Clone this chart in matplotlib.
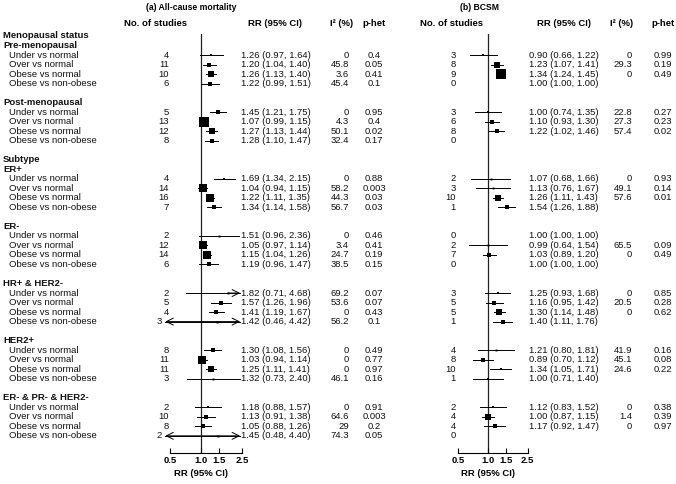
import numpy as np
import matplotlib
matplotlib.use('Agg')
import matplotlib.pyplot as plt
from matplotlib.ticker import NullLocator

plt.rcParams['font.family'] = ['Liberation Sans', 'DejaVu Sans']
FS = 6.8

# ---- data -------------------------------------------------------------------
sections = ['Menopausal status', 'Subtype']
groups = ['Pre-menopausal', 'Post-menopausal', 'ER+', 'ER-', 'HR+ & HER2-', 'HER2+',
          'ER- & PR- & HER2-']
comparisons = ['Under vs normal', 'Over vs normal', 'Obese vs normal', 'Obese vs non-obese']

# (a) all-cause mortality, 4 comparisons per group, groups in order above
acm_n = [4, 11, 10, 6,   5, 13, 12, 8,   4, 14, 16, 7,   2, 12, 14, 6,
         2, 5, 4, 3,     8, 11, 11, 3,   2, 10, 8, 2]
acm_rr = [1.26, 1.20, 1.26, 1.22,  1.45, 1.07, 1.27, 1.28,  1.69, 1.04, 1.22, 1.34,
          1.51, 1.05, 1.15, 1.19,  1.82, 1.57, 1.41, 1.42,  1.30, 1.03, 1.25, 1.32,
          1.18, 1.13, 1.05, 1.45]
acm_lo = [0.97, 1.04, 1.13, 0.99,  1.21, 0.99, 1.13, 1.10,  1.34, 0.94, 1.11, 1.14,
          0.96, 0.97, 1.04, 0.96,  0.71, 1.26, 1.19, 0.46,  1.08, 0.94, 1.11, 0.73,
          0.88, 0.91, 0.88, 0.48]
acm_hi = [1.64, 1.40, 1.40, 1.51,  1.75, 1.15, 1.44, 1.47,  2.15, 1.15, 1.35, 1.58,
          2.36, 1.14, 1.26, 1.47,  4.68, 1.96, 1.67, 4.42,  1.56, 1.14, 1.41, 2.40,
          1.57, 1.38, 1.26, 4.40]
acm_i2 = ['0', '45.8', '3.6', '45.4',  '0', '4.3', '50.1', '32.4',  '0', '58.2', '44.3', '56.7',
          '0', '3.4', '24.7', '38.5',  '69.2', '53.6', '0', '56.2',  '0', '0', '0', '46.1',
          '0', '64.6', '29', '74.3']
acm_phet = ['0.4', '0.05', '0.41', '0.1',  '0.95', '0.4', '0.02', '0.17',
            '0.88', '0.003', '0.03', '0.03',  '0.46', '0.41', '0.19', '0.15',
            '0.07', '0.07', '0.43', '0.1',  '0.49', '0.77', '0.97', '0.16',
            '0.91', '0.003', '0.2', '0.05']

# (b) breast-cancer-specific mortality; None = nothing printed
bcsm_n = [3, 8, 9, 0,   3, 6, 8, 0,   2, 3, 10, 1,   0, 2, 7, 0,
          3, 5, 5, 1,   4, 8, 10, 1,   2, 4, 4, 0]
bcsm_rr = [0.90, 1.23, 1.34, 1.00,  1.00, 1.10, 1.22, None,  1.07, 1.13, 1.26, 1.54,
           1.00, 0.99, 1.03, 1.00,  1.25, 1.16, 1.30, 1.40,  1.21, 0.89, 1.34, 1.00,
           1.12, 1.00, 1.17, None]
bcsm_lo = [0.66, 1.07, 1.24, 1.00,  0.74, 0.93, 1.02, None,  0.68, 0.76, 1.11, 1.26,
           1.00, 0.64, 0.89, 1.00,  0.93, 0.95, 1.14, 1.11,  0.80, 0.70, 1.05, 0.71,
           0.83, 0.87, 0.92, None]
bcsm_hi = [1.22, 1.41, 1.45, 1.00,  1.35, 1.30, 1.46, None,  1.66, 1.67, 1.43, 1.88,
           1.00, 1.54, 1.20, 1.00,  1.68, 1.42, 1.48, 1.76,  1.81, 1.12, 1.71, 1.40,
           1.52, 1.15, 1.47, None]
bcsm_i2 = ['0', '29.3', '0', None,  '22.8', '27.3', '57.4', None,  '0', '49.1', '57.6', None,
           None, '65.5', '0', None,  '0', '20.5', '0', None,  '41.9', '45.1', '24.6', None,
           '0', '1.4', '0', None]
bcsm_phet = ['0.99', '0.19', '0.49', None,  '0.27', '0.23', '0.02', None,
             '0.93', '0.14', '0.01', None,  None, '0.09', '0.49', None,
             '0.85', '0.28', '0.62', None,  '0.16', '0.08', '0.22', None,
             '0.38', '0.39', '0.97', None]

ticks = [0.5, 1.0, 1.5, 2.5]
tick_labels = ['0.5', '1.0', '1.5', '2.5']

# ---- layout (pixels) ----------------------------------------------------------
W, H = 676, 484
ROW0, DY = 36.0, 9.52           # y of row 0 ("Menopausal status"), row pitch
section_rows = [0, 13]
group_rows = [1, 7, 14, 20, 26, 32, 38]
CUT_LO, CUT_HI = 0.50, 2.40     # CIs beyond these are truncated with an arrow
TIP_LO, TIP_HI = 0.45, 2.40     # where the arrow tips are drawn
AX_TOP, AX_BOT = 34, 453


def ypx(row):
    return ROW0 + DY * row


fig = plt.figure(figsize=(W / 100, H / 100), dpi=100)
tax = fig.add_axes([0, 0, 1, 1])
tax.set_xlim(0, W); tax.set_ylim(H, 0); tax.axis('off')


def txt(x, row, s, ha='left', bold=False):
    tax.text(x, ypx(row), s, ha=ha, va='center', fontsize=FS,
             fontweight='bold' if bold else 'normal', color='#111111')


def panel(title, cx, cols, n, rr, lo, hi, i2, ph):
    # cols: n right edge, x of RR=1, px per ln unit, RR text left, I2 right, p centre
    x_n, x_one, scale, x_rr, x_i2, x_p = cols
    tax.text(cx, 7, title, ha='center', va='center', fontsize=6.2, fontweight='bold')
    left = x_one - np.log(2.5) * scale
    right = x_one + np.log(2.5) * scale
    ax = fig.add_axes([left / W, 1 - AX_BOT / H, (right - left) / W, (AX_BOT - AX_TOP) / H])
    ax.set_xscale('log')
    ax.set_xlim(0.4, 2.5)
    ax.set_ylim((AX_BOT - ROW0) / DY, (AX_TOP - ROW0) / DY)
    ax.patch.set_alpha(0)
    for sp in ['top', 'left', 'right']:
        ax.spines[sp].set_visible(False)
    ax.spines['bottom'].set_bounds(0.5, 2.5)
    ax.spines['bottom'].set_linewidth(0.8)
    ax.set_yticks([])
    ax.set_xticks(ticks)
    ax.set_xticklabels(tick_labels, fontweight='bold', fontsize=FS)
    ax.xaxis.set_minor_locator(NullLocator())
    ax.tick_params(axis='x', direction='in', length=3.6, width=0.8, pad=2.5)
    ax.set_xlabel('RR (95% CI)', fontweight='bold', fontsize=FS, labelpad=2.5)
    ax.axvline(1.0, color='#222222', lw=0.9, zorder=1)

    arrow = dict(arrowstyle='->,head_length=0.5,head_width=0.25', color='black', lw=0.7,
                 shrinkA=0, shrinkB=0, clip_on=False)
    for g, grow in enumerate(group_rows):
        for c in range(4):
            k = g * 4 + c
            row = grow + 1 + c
            cut_lo = lo[k] is not None and lo[k] < CUT_LO
            cut_hi = hi[k] is not None and hi[k] > CUT_HI
            # the count is nudged left when a left-pointing arrow needs the room
            txt(x_n - (7 if cut_lo else 0), row, str(n[k]), ha='right')
            if rr[k] is not None:
                txt(x_rr, row, f'{rr[k]:.2f} ({lo[k]:.2f}, {hi[k]:.2f})')
            if i2[k] is not None:
                txt(x_i2, row, i2[k], ha='right')
            if ph[k] is not None:
                txt(x_p, row, ph[k], ha='center')
            if rr[k] is None or n[k] == 0:
                continue
            a = TIP_LO if cut_lo else lo[k]
            b = TIP_HI if cut_hi else hi[k]
            ax.plot([a, b], [row, row], color='black', lw=0.7, zorder=2, clip_on=False)
            if cut_hi:
                ax.annotate('', xy=(b, row), xytext=(rr[k], row), arrowprops=arrow,
                            annotation_clip=False)
            if cut_lo:
                ax.annotate('', xy=(a, row), xytext=(rr[k], row), arrowprops=arrow,
                            annotation_clip=False)
            se = (np.log(hi[k]) - np.log(lo[k])) / 3.92
            ax.plot(rr[k], row, 's', color='black', ms=max(1.4, 0.26 / se), mew=0, zorder=3)
    return ax


# row labels (left of panel a)
for s, r in zip(sections, section_rows):
    txt(3, r, s, bold=True)
for g, r in zip(groups, group_rows):
    txt(3, r, g, bold=True)
    for c, comp in enumerate(comparisons):
        txt(9, r + 1 + c, comp)

# column headers
for x, s in [(156, 'No. of studies'), (275, 'RR (95% CI)'), (342, 'I² (%)'), (374, 'p-het'),
             (452, 'No. of studies'), (564, 'RR (95% CI)'), (622, 'I² (%)'), (663, 'p-het')]:
    tax.text(x, 24, s, ha='center', va='center', fontsize=FS, fontweight='bold')

panel('(a) All-cause mortality', 191, (169, 201, 44.7, 241, 349, 374),
      acm_n, acm_rr, acm_lo, acm_hi, acm_i2, acm_phet)
panel('(b) BCSM', 480, (456, 488, 43.3, 529, 632, 663),
      bcsm_n, bcsm_rr, bcsm_lo, bcsm_hi, bcsm_i2, bcsm_phet)

fig.savefig('out.png', dpi=100)
